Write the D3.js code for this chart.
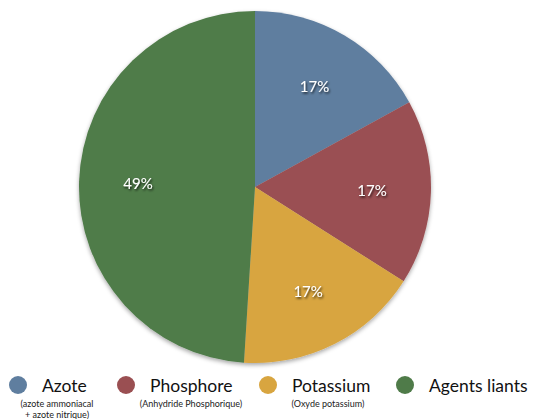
<!DOCTYPE html>
<html>
<head>
<meta charset="utf-8">
<script src="https://cdn.jsdelivr.net/npm/d3@7/dist/d3.min.js"></script>
<style>
  html, body { margin: 0; padding: 0; background: #fff; }
  svg { display: block; font-family: "Lato", "Open Sans", sans-serif; }
</style>
</head>
<body>
<svg id="chart" width="536" height="419"></svg>
<script>
// Composition of the fertiliser, in percent
const categories = ["Azote", "Phosphore", "Potassium", "Agents liants"];
const values = [17, 17, 17, 49];
const subtitles = [
  ["(azote ammoniacal", "+ azote nitrique)"],
  ["(Anhydride Phosphorique)"],
  ["(Oxyde potassium)"],
  []
];
const colors = ["#5f7e9f", "#9a4f52", "#d8a540", "#4f7b49"];

const svg = d3.select("#chart");
const cx = 255, cy = 187, radius = 176;

const defs = svg.append("defs");
const shadow = defs.append("filter").attr("id", "pieShadow")
  .attr("x", "-10%").attr("y", "-10%").attr("width", "120%").attr("height", "120%");
shadow.append("feDropShadow").attr("dx", 0).attr("dy", 2).attr("stdDeviation", 2.2)
  .attr("flood-color", "#000").attr("flood-opacity", 0.35);

const textShadow = defs.append("filter").attr("id", "textShadow")
  .attr("x", "-20%").attr("y", "-20%").attr("width", "140%").attr("height", "140%");
textShadow.append("feDropShadow").attr("dx", 1).attr("dy", 1.5).attr("stdDeviation", 0.8)
  .attr("flood-color", "#000").attr("flood-opacity", 0.8);

const color = d3.scaleOrdinal().domain(categories).range(colors);

const pie = d3.pie().sort(null).value(d => d.value);
const arcs = pie(categories.map((c, i) => ({ name: c, value: values[i] })));

const arc = d3.arc().innerRadius(0).outerRadius(radius);
const labelArc = d3.arc().innerRadius(radius * 0.665).outerRadius(radius * 0.665);

const g = svg.append("g").attr("transform", `translate(${cx},${cy})`);

g.append("g").attr("filter", "url(#pieShadow)")
  .selectAll("path")
  .data(arcs)
  .join("path")
  .attr("d", arc)
  .attr("fill", d => color(d.data.name));

const total = d3.sum(values);
g.selectAll("text.pct")
  .data(arcs)
  .join("text")
  .attr("class", "pct")
  .attr("transform", d => `translate(${labelArc.centroid(d)})`)
  .attr("text-anchor", "middle")
  .attr("dy", "0.36em")
  .attr("fill", "#fff")
  .attr("font-size", 15)
  .attr("filter", "url(#textShadow)")
  .text(d => Math.round(d.data.value / total * 100) + "%");

// Legend
const legendX = [18, 126, 268, 405];
const legend = svg.append("g");
const item = legend.selectAll("g.item")
  .data(categories)
  .join("g")
  .attr("class", "item")
  .attr("transform", (d, i) => `translate(${legendX[i]},385)`);

item.append("circle")
  .attr("r", 9)
  .attr("fill", d => color(d));

item.append("text")
  .attr("x", 24)
  .attr("y", 7)
  .attr("font-size", 17.5)
  .attr("fill", "#111")
  .text(d => d);

const subCenters = [39, 65, 60, 0];
item.each(function (d, i) {
  d3.select(this).selectAll("text.sub")
    .data(subtitles[i])
    .join("text")
    .attr("class", "sub")
    .attr("x", subCenters[i])
    .attr("y", (s, j) => 22 + j * 11)
    .attr("text-anchor", "middle")
    .attr("font-size", 9)
    .attr("fill", "#222")
    .text(s => s);
});
</script>
</body>
</html>
